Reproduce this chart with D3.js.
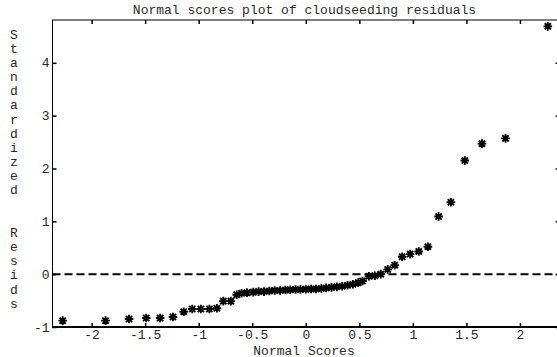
<!DOCTYPE html>
<html>

<head>
    <style>
        body { margin: 0; background: #fff; }
        svg text { font-family: "Courier New", "Liberation Mono", monospace; font-size: 13px; fill: #2a2a2a; }
    </style>
</head>

<body>
    <svg width="557" height="357"></svg>
    <script src="https://d3js.org/d3.v7.min.js"></script>
    <script>
        // normal scores (x) and standardized residuals (y)
        var lowScores = [-2.27, -1.87, -1.65, -1.49, -1.36, -1.24, -1.14, -1.06, -0.98, -0.90, -0.83, -0.77, -0.70, -0.645, -0.60, -0.55];
        var lowResids = [-0.88, -0.88, -0.85, -0.83, -0.83, -0.81, -0.71, -0.66, -0.66, -0.66, -0.645, -0.51, -0.51, -0.39, -0.36, -0.35];

        var midScores = [-0.49, -0.44, -0.39, -0.34, -0.29, -0.24, -0.19, -0.145, -0.095, -0.05, 0, 0.05, 0.095, 0.145, 0.19, 0.24, 0.29, 0.34, 0.39, 0.44, 0.49];
        var midResids = [-0.34, -0.33, -0.33, -0.32, -0.31, -0.31, -0.30, -0.295, -0.29, -0.29, -0.285, -0.28, -0.28, -0.27, -0.26, -0.25, -0.24, -0.23, -0.21, -0.19, -0.16];

        var highScores = [0.53, 0.59, 0.645, 0.70, 0.765, 0.83, 0.90, 0.975, 1.055, 1.14, 1.24, 1.355, 1.485, 1.645, 1.865, 2.26];
        var highResids = [-0.13, -0.04, -0.03, 0.0, 0.09, 0.17, 0.33, 0.38, 0.43, 0.52, 1.09, 1.36, 2.15, 2.47, 2.57, 4.69];

        var xTicks = [-2, -1.5, -1, -0.5, 0, 0.5, 1, 1.5, 2];
        var xTickLabels = ["-2", "-1.5", "-1", "-0.5", "0", "0.5", "1", "1.5", "2"];
        var yTicks = [-1, 0, 1, 2, 3, 4];
        var yTickLabels = ["-1", "0", "1", "2", "3", "4"];

        var title = "Normal scores plot of cloudseeding residuals";
        var xTitle = "Normal Scores";
        var yTitle = "Standardized  Resids";

        var scores = lowScores.concat(midScores, highScores);
        var resids = lowResids.concat(midResids, highResids);
        var data = scores.map(function (s, i) { return { x: s, y: resids[i] }; });

        var svg = d3.select("svg"),
            plotL = 52.5, plotR = 559.6, plotT = 20, plotB = 327;

        var x = d3.scaleLinear().domain([-2.365, 2.37]).range([plotL, plotR]);
        var y = d3.scaleLinear().domain([-1, 4.81]).range([plotB, plotT]);

        // frame
        svg.append("rect")
            .attr("x", plotL).attr("y", plotT)
            .attr("width", plotR - plotL).attr("height", plotB - plotT)
            .attr("fill", "none").attr("stroke", "#000").attr("stroke-width", 1);
        svg.append("line")
            .attr("x1", plotL - 0.5).attr("x2", plotR)
            .attr("y1", plotB).attr("y2", plotB)
            .attr("stroke", "#000").attr("stroke-width", 2);

        // axes, ticks pointing inward
        svg.append("g")
            .attr("transform", "translate(0," + plotB + ")")
            .call(d3.axisBottom(x).tickValues(xTicks).tickSize(-4).tickPadding(3)
                .tickFormat(function (d, i) { return xTickLabels[i]; }));
        svg.append("g")
            .attr("transform", "translate(0," + plotT + ")")
            .call(d3.axisTop(x).tickValues(xTicks).tickSize(-4).tickFormat(""));
        svg.append("g")
            .attr("transform", "translate(" + plotL + ",0)")
            .call(d3.axisLeft(y).tickValues(yTicks).tickSize(-4).tickPadding(3)
                .tickFormat(function (d, i) { return yTickLabels[i]; }));
        svg.append("g")
            .attr("transform", "translate(" + plotR + ",0)")
            .call(d3.axisRight(y).tickValues(yTicks).tickSize(-4).tickFormat(""));

        svg.selectAll(".domain").remove();
        svg.selectAll(".tick line").attr("stroke", "#000").attr("stroke-width", 1.5);
        svg.selectAll(".tick text").attr("font-family", null).attr("font-size", null).attr("fill", null);

        // zero reference line
        svg.append("line")
            .attr("x1", plotL).attr("x2", plotR)
            .attr("y1", y(0)).attr("y2", y(0))
            .attr("stroke", "#000").attr("stroke-width", 2)
            .attr("stroke-dasharray", "8,4");

        // asterisk markers
        var r = 4.3, q = 3.1;
        var star = "M" + (-r) + ",0L" + r + ",0M0," + (-r) + "L0," + r +
            "M" + (-q) + "," + (-q) + "L" + q + "," + q + "M" + (-q) + "," + q + "L" + q + "," + (-q);
        svg.append("g").selectAll("path")
            .data(data)
            .enter().append("path")
            .attr("transform", function (p) { return "translate(" + x(p.x) + "," + y(p.y) + ")"; })
            .attr("d", star)
            .attr("fill", "none")
            .attr("stroke", "#000")
            .attr("stroke-width", 1.9);

        // titles
        svg.append("text")
            .attr("x", 304.5).attr("y", 14)
            .attr("text-anchor", "middle")
            .text(title);
        svg.append("text")
            .attr("x", 304).attr("y", 354.5)
            .attr("text-anchor", "middle")
            .text(xTitle);
        svg.append("g").selectAll("text")
            .data(yTitle.split(""))
            .enter().append("text")
            .attr("x", 14)
            .attr("y", function (c, i) { return 35 + i * 14.17; })
            .attr("text-anchor", "middle")
            .attr("dominant-baseline", "central")
            .text(function (c) { return c; });
    </script>
</body>

</html>
